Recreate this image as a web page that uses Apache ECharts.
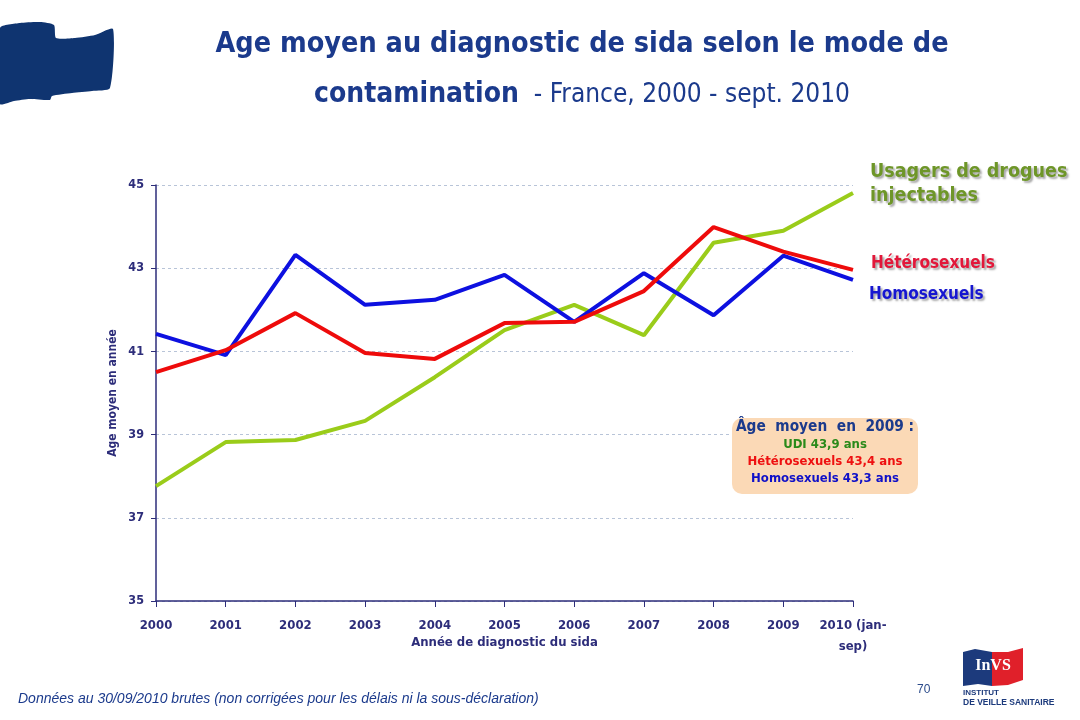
<!DOCTYPE html>
<html>
<head>
<meta charset="utf-8">
<script src="https://cdn.jsdelivr.net/npm/echarts@6/dist/echarts.min.js"></script>
<style>
html,body{margin:0;padding:0;background:#fff;}
#c{width:1080px;height:720px;}
</style>
</head>
<body>
<div id="c"></div>
<script>
const years = ['2000','2001','2002','2003','2004','2005','2006','2007','2008','2009','2010 (jan-sep)'];
const homo = [41.42, 40.91, 43.32, 42.12, 42.24, 42.84, 41.71, 42.88, 41.87, 43.3, 42.72];
const hetero = [40.5, 41.03, 41.92, 40.96, 40.82, 41.68, 41.71, 42.45, 43.99, 43.4, 42.96];
const udi = [37.76, 38.82, 38.87, 39.33, 40.38, 41.51, 42.12, 41.39, 43.61, 43.9, 44.81];
const yTicks = [35, 37, 39, 41, 43, 45];

const FONT = '"Liberation Sans Narrow","DejaVu Sans Condensed","Liberation Sans",Arial,sans-serif';
const NAVY = '#2d2d7a';
const chart = echarts.init(document.getElementById('c'), null, {renderer:'canvas'});

const shadow = {textShadowColor:'rgba(0,0,0,0.35)', textShadowBlur:2, textShadowOffsetX:2, textShadowOffsetY:2};

chart.setOption({
  backgroundColor:'#ffffff',
  animation:false,
  grid:{left:156, right:227, top:185, bottom:119, containLabel:false},
  xAxis:{
    type:'category', data:years, boundaryGap:false,
    name:'Année de diagnostic du sida', nameLocation:'middle', nameGap:35, nameMoveOverlap:false,
    nameTextStyle:{color:NAVY, fontFamily:FONT, fontWeight:'bold', fontSize:13},
    axisLine:{lineStyle:{color:NAVY, width:1.5}},
    axisTick:{show:true, length:6, lineStyle:{color:NAVY}},
    axisLabel:{color:NAVY, fontFamily:FONT, fontWeight:'bold', fontSize:13, margin:14,
      formatter:function(v){return v==='2010 (jan-sep)' ? '2010 (jan-\nsep)' : v;}, lineHeight:21, interval:0},
    splitLine:{show:false}
  },
  yAxis:{
    type:'value', min:yTicks[0], max:yTicks[yTicks.length-1], interval:2,
    name:'Age moyen en année', nameLocation:'middle', nameGap:37, nameRotate:90, nameMoveOverlap:false,
    nameTextStyle:{color:NAVY, fontFamily:FONT, fontWeight:'bold', fontSize:12},
    axisLine:{show:true, lineStyle:{color:NAVY, width:1.5}},
    axisTick:{show:true, length:5, lineStyle:{color:NAVY}},
    axisLabel:{color:NAVY, fontFamily:FONT, fontWeight:'bold', fontSize:12.5, margin:12},
    splitLine:{show:true, lineStyle:{color:'#b8c4d8', type:[3,3], width:1}}
  },
  series:[
    {name:'Usagers de drogues injectables', type:'line', data:udi, symbol:'none',
      lineStyle:{color:'#9acc1a', width:4}, z:2,
      endLabel:{show:true, formatter:'Usagers de drogues\ninjectables', color:'#6e9628', fontFamily:FONT, fontWeight:'bold', fontSize:19.5, lineHeight:24, offset:[9,-9], ...shadow}},
    {name:'Hétérosexuels', type:'line', data:hetero, symbol:'none',
      lineStyle:{color:'#ee0b0b', width:4}, z:4,
      endLabel:{show:true, formatter:'Hétérosexuels', color:'#e2183a', fontFamily:FONT, fontWeight:'bold', fontSize:17, offset:[10,-6], ...shadow}},
    {name:'Homosexuels', type:'line', data:homo, symbol:'none',
      lineStyle:{color:'#0d10e0', width:4}, z:3,
      endLabel:{show:true, formatter:'Homosexuels', color:'#1616d0', fontFamily:FONT, fontWeight:'bold', fontSize:17, offset:[8,15], ...shadow}}
  ],
  graphic:[
    {type:'polygon', shape:{smooth:0.2, points:[[0,28],[20,23],[40,22],[54,25],[56,38],[75,38],[95,35],[113,29],[110,88],[92,91],[72,93],[52,96],[50,100],[30,99],[14,101],[0,104]]}, style:{fill:'#0f3470'}, z:10},
    {type:'text', x:582, y:30, style:{text:'Age moyen au diagnostic de sida selon le mode de', font:'bold 28.5px '+FONT, fill:'#1b3a8c', align:'center'}},
    {type:'text', x:582, y:81, style:{rich:{b:{font:'bold 28px '+FONT, fill:'#1b3a8c'}, r:{font:'26px '+FONT, fill:'#1b3a8c'}}, text:'{b|contamination}{r|  - France, 2000 - sept. 2010}', align:'center'}},
    {type:'rect', shape:{x:732, y:418, width:186, height:76, r:10}, style:{fill:'#fbd9b6'}, z:5},
    {type:'text', x:825, y:420, z:6, style:{text:'Âge  moyen  en  2009 :', font:'bold 15.3px '+FONT, fill:'#1b3a8c', align:'center'}},
    {type:'text', x:825, y:438, z:6, style:{text:'UDI 43,9 ans', font:'bold 13px '+FONT, fill:'#2a8a1a', align:'center'}},
    {type:'text', x:825, y:455, z:6, style:{text:'Hétérosexuels 43,4 ans', font:'bold 13px '+FONT, fill:'#ee1010', align:'center'}},
    {type:'text', x:825, y:472, z:6, style:{text:'Homosexuels 43,3 ans', font:'bold 13px '+FONT, fill:'#1010c8', align:'center'}},
    {type:'text', x:18, y:692, style:{text:'Données au 30/09/2010 brutes (non corrigées pour les délais ni la sous-déclaration)', font:'italic 14px "Liberation Sans",Arial,sans-serif', fill:'#1b3a8c'}},
    {type:'text', x:917, y:684, style:{text:'70', font:'12px "Liberation Sans",Arial,sans-serif', fill:'#2a4a8a'}},
    {type:'polygon', shape:{points:[[963,652],[975,649],[992,652],[992,686],[978,684],[963,686]]}, style:{fill:'#1c3a7c'}},
    {type:'polygon', shape:{points:[[992,652],[1008,652],[1023,648],[1023,680],[1008,685],[992,686]]}, style:{fill:'#e0202a'}},
    {type:'text', x:993, y:658, style:{text:'InVS', font:'bold 16px "Liberation Serif",serif', fill:'#ffffff', align:'center'}},
    {type:'text', x:963, y:689, style:{text:'INSTITUT', font:'bold 8px "Liberation Sans",Arial,sans-serif', fill:'#1c3a7c'}},
    {type:'text', x:963, y:698, style:{text:'DE VEILLE SANITAIRE', font:'bold 8.5px "Liberation Sans",Arial,sans-serif', fill:'#1c3a7c'}}
  ]
});
</script>
</body>
</html>
